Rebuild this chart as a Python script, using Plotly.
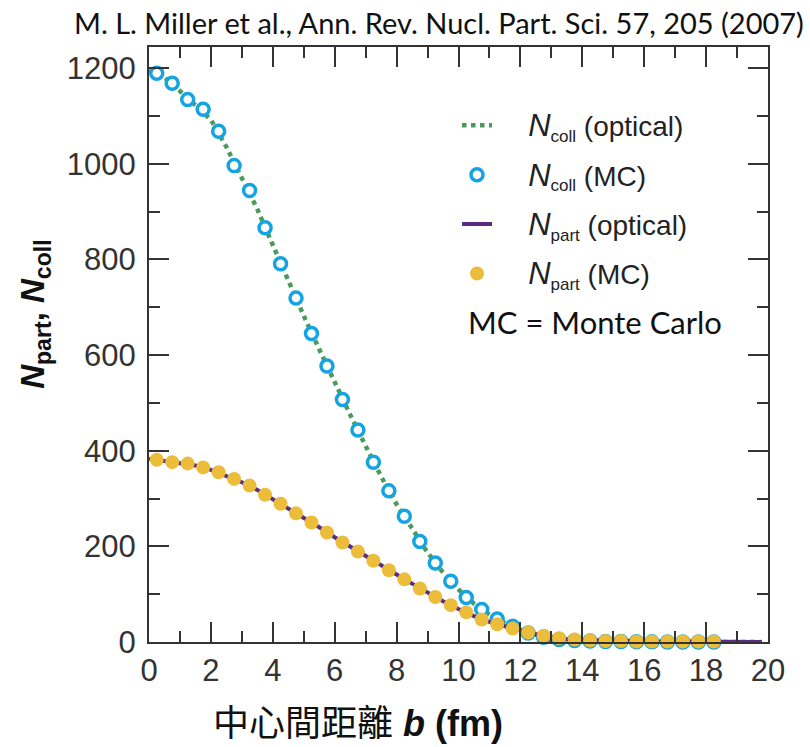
import plotly.graph_objects as go

# Impact parameter grids (fm)
b_mc = [0.25, 0.75, 1.25, 1.75, 2.25, 2.75, 3.25, 3.75, 4.25, 4.75,
        5.25, 5.75, 6.25, 6.75, 7.25, 7.75, 8.25, 8.75, 9.25, 9.75,
        10.25, 10.75, 11.25, 11.75, 12.25, 12.75, 13.25, 13.75, 14.25, 14.75,
        15.25, 15.75, 16.25, 16.75, 17.25, 17.75, 18.25]
b_opt = [0.0, 0.5, 1.0, 1.5, 2.0, 2.5, 3.0, 3.5, 4.0, 4.5,
         5.0, 5.5, 6.0, 6.5, 7.0, 7.5, 8.0, 8.5, 9.0, 9.5,
         10.0, 10.5, 11.0, 11.5, 12.0, 12.5, 13.0, 13.5, 14.0, 14.5,
         15.0, 15.5, 16.0, 16.5, 17.0, 17.5, 18.0, 18.5, 19.0, 19.5, 19.8]

# Number of binary collisions
ncoll_opt = [1195, 1180, 1152, 1122, 1092, 1035, 970, 905, 830, 755,
             682, 612, 542, 475, 410, 346, 288, 236, 187, 145,
             110, 80, 57, 40, 26, 15, 8, 4, 2, 1,
             0.5, 0.3, 0.2, 0.1, 0.1, 0, 0, 0, 0, 0, 0]
ncoll_mc = [1189, 1168, 1134, 1114, 1068, 996, 944, 866, 791, 719,
            645, 577, 507, 443, 376, 316, 263, 210, 165, 127,
            93, 68, 48, 33, 19, 10, 5, 3, 2, 1,
            1, 0.5, 0.3, 0.2, 0.1, 0.1, 0]

# Number of participating nucleons
npart_opt = [383, 379, 375, 369, 360, 348, 334, 318, 299, 279,
             260, 240, 219, 199, 180, 160, 141, 122, 103, 85,
             69, 54, 42, 32, 24, 16, 10, 6, 4, 3,
             2, 2, 1.5, 1, 1, 1, 1, 1, 1, 0.5, 0]
npart_mc = [381, 376, 373, 365, 355, 341, 327, 308, 289, 269,
            250, 229, 208, 189, 170, 150, 131, 112, 94, 77,
            62, 47, 37, 28, 20, 13, 8, 5, 3, 2,
            2, 1, 1, 1, 1, 1, 1]

x_ticks = [0, 2, 4, 6, 8, 10, 12, 14, 16, 18, 20]
y_ticks = [0, 200, 400, 600, 800, 1000, 1200]

GREEN = "#4a9a5c"
BLUE = "#14a4e2"
PURPLE = "#5a2d82"
YELLOW = "#ecbd3b"
FRAME = "#333333"


def legend_label(sub, tag):
    return ("&nbsp;&nbsp;&nbsp;&nbsp;"
            '<span style="font-size:31px"><i>N</i></span>'
            f'<sub><span style="font-size:17px">{sub}</span></sub> ({tag})')


fig = go.Figure()
fig.add_trace(go.Scatter(
    x=b_opt, y=ncoll_opt, mode="lines", name=legend_label("coll", "optical"),
    legendgroup="a", line=dict(color=GREEN, width=4.5, dash="dot"), cliponaxis=False))
fig.add_trace(go.Scatter(
    x=b_mc, y=ncoll_mc, mode="markers", name=legend_label("coll", "MC"),
    legendgroup="b",
    marker=dict(symbol="circle", size=12, color="white",
                line=dict(color=BLUE, width=3.5)), cliponaxis=False))
fig.add_trace(go.Scatter(
    x=b_opt, y=npart_opt, mode="lines", name=legend_label("part", "optical"),
    legendgroup="c", line=dict(color=PURPLE, width=4), cliponaxis=False))
fig.add_trace(go.Scatter(
    x=b_mc, y=npart_mc, mode="markers", name=legend_label("part", "MC"),
    legendgroup="d",
    marker=dict(symbol="circle", size=14, color=YELLOW), cliponaxis=False))

axis_common = dict(
    showgrid=False, zeroline=False, showline=True, linecolor=FRAME, linewidth=2,
    mirror="ticks", ticks="inside", ticklen=20, tickwidth=2, tickcolor=FRAME,
    tickfont=dict(family="Liberation Sans, Arial, sans-serif", size=31, color="#333333"),
)

fig.update_xaxes(
    range=[0, 20], tickvals=x_ticks, ticktext=[str(v) for v in x_ticks],
    ticklabelstandoff=0,
    minor=dict(ticks="inside", dtick=1, ticklen=11, tickwidth=2, tickcolor=FRAME),
    **axis_common)
fig.update_yaxes(
    range=[0, 1244], tickvals=y_ticks, ticktext=[str(v) for v in y_ticks],
    ticklabelstandoff=5,
    minor=dict(ticks="inside", dtick=100, ticklen=11, tickwidth=2, tickcolor=FRAME),
    **axis_common)

fig.update_layout(
    width=810, height=747,
    margin=dict(l=149, r=42, t=47, b=105),
    paper_bgcolor="white", plot_bgcolor="white",
    showlegend=True,
    legend=dict(
        x=0.4976, y=0.91, xanchor="left", yanchor="top",
        bgcolor="rgba(0,0,0,0)", tracegroupgap=10, traceorder="grouped",
        font=dict(family="Liberation Sans, Arial, sans-serif", size=28, color="#222222"),
    ),
    annotations=[
        dict(text="M. L. Miller et al., Ann. Rev. Nucl. Part. Sci. 57, 205 (2007)",
             xref="paper", yref="paper", x=0.469, y=1.042, showarrow=False,
             xanchor="center", yanchor="middle",
             font=dict(family="Lato, Open Sans, sans-serif", size=29, color="#111111")),
        dict(text="MC = Monte Carlo",
             xref="paper", yref="paper", x=0.72, y=0.538, showarrow=False,
             xanchor="center", yanchor="middle",
             font=dict(family="Lato, Open Sans, sans-serif", size=31, color="#111111")),
        dict(text="<b><i>N</i><sub>part</sub>, <i>N</i><sub>coll</sub></b>",
             xref="paper", yref="paper", x=-0.184, y=0.55, showarrow=False,
             textangle=-90, xanchor="center", yanchor="middle",
             font=dict(family="Liberation Sans, Arial, sans-serif", size=33, color="#111111")),
        dict(text='<span style="font-family:\'Noto Sans CJK TC\'">中心間距離</span> '
                  '<b><i>b</i> (fm)</b>',
             xref="paper", yref="paper", x=0.338, y=-0.131, showarrow=False,
             xanchor="center", yanchor="middle",
             font=dict(family="Liberation Sans, Noto Sans CJK TC, sans-serif", size=36,
                       color="#111111")),
    ],
)

fig.write_html("out.html")
